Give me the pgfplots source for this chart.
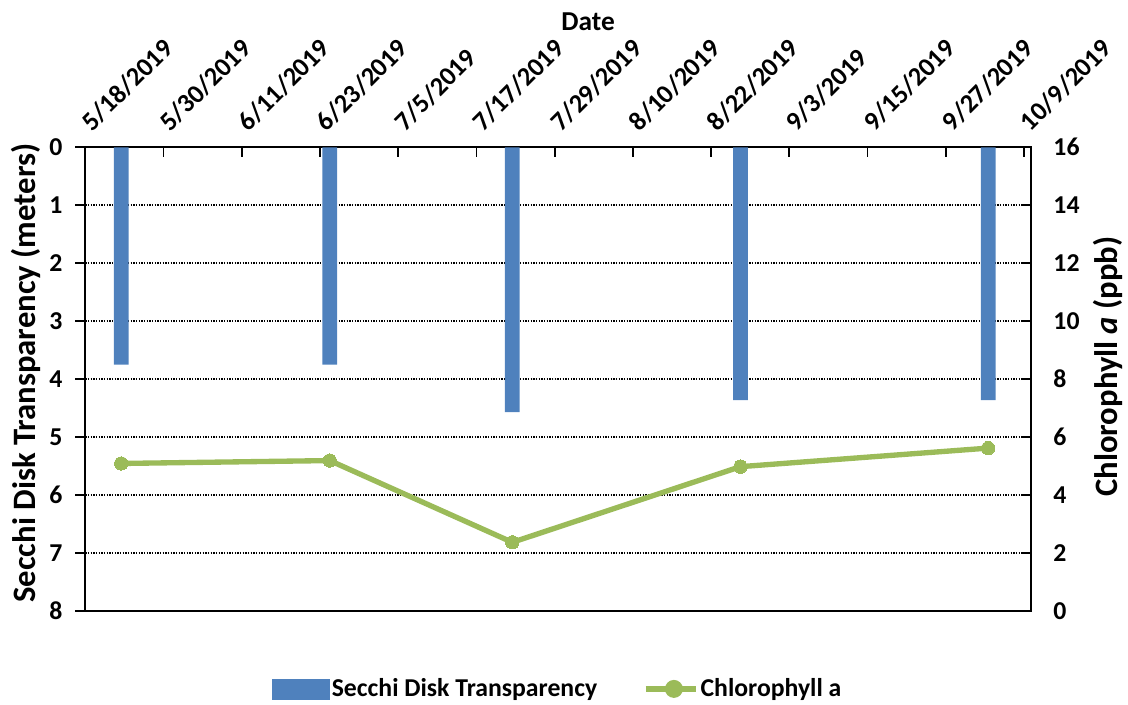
\documentclass[border=0pt]{standalone}
\usepackage{fontspec}
\setmainfont{Carlito}
\usepackage{pgfplots}
\pgfplotsset{compat=1.18}
\definecolor{secchi}{HTML}{4F81BD}
\definecolor{chl}{HTML}{9BBB59}
\newcommand{\fs}{\fontsize{19.3}{21}\selectfont\bfseries}
\newcommand{\fx}{\fontsize{19.8}{21}\selectfont\bfseries}
\newcommand{\fl}{\fontsize{24.5}{26}\selectfont\bfseries}
\newcommand{\ft}{\fontsize{20.5}{22}\selectfont\bfseries}
\begin{document}
\begin{tikzpicture}
\useasboundingbox (-64pt,-70.5pt) rectangle (782pt,458.25pt);
\pgfplotsset{
  base/.style={
    scale only axis, width=708.9pt, height=347.8pt,
    at={(0,0)}, anchor=south west,
    xmin=0, xmax=145,
    axis line style={line width=1.5pt},
    tick style={line width=1.3pt, black},
    major tick length=7.5pt,
    tick align=inside,
    /pgf/number format/assume math mode=true,
    tick label style={font=\fs},
  }
}
\begin{axis}[base,
  ymin=0, ymax=8, y dir=reverse,
  ytick={0,...,8},
  xtick={0,12,...,144},
  xticklabels={5/18/2019,5/30/2019,6/11/2019,6/23/2019,7/5/2019,7/17/2019,7/29/2019,8/10/2019,8/22/2019,9/3/2019,9/15/2019,9/27/2019,10/9/2019},
  xtick pos=right, ytick pos=left,
  xticklabel pos=right, yticklabel pos=left,
  xticklabel style={xshift=5pt, rotate=45, anchor=base west, inner sep=0pt, font=\fx},
  xticklabel shift=11pt,
  yticklabel style={anchor=east, inner sep=0pt},
  yticklabel shift=17pt,
  y tick style={xshift=-7.5pt},
  ymajorgrids,
  major grid style={black, line width=1.3pt, dash pattern=on 1pt off 1pt},
  xlabel={Date},
  xlabel style={at={(axis description cs:0.532,1.27)}, anchor=center, inner sep=0pt, font=\ft},
  ylabel={Secchi Disk Transparency (meters)},
  ylabel style={at={(axis description cs:-0.0627,0.513)}, anchor=center, inner sep=0pt, font=\fl},
]
\addplot[ybar, bar width=11pt, fill=secchi, draw=none] coordinates {
  (5.5,3.75) (37.5,3.75) (65.5,4.57) (100.5,4.36) (138.5,4.36)
};
\end{axis}
\begin{axis}[base,
  ymin=0, ymax=16,
  ytick={0,2,...,16},
  axis y line*=right, hide x axis,
  yticklabel style={anchor=west, inner sep=0pt},
  yticklabel shift=17pt,
  ylabel={Chlorophyll \textit{a} (ppb)},
  ylabel style={at={(axis description cs:1.082,0.527)}, anchor=center, inner sep=0pt, font=\fl},
  legend style={draw=none, fill=none, legend columns=2, inner sep=0pt,
    at={(axis description cs:0.1975,-0.168)}, anchor=west,
    nodes={inner sep=1.5pt, font=\fs},
    /tikz/every even column/.append style={column sep=33pt}},
]
\addlegendimage{legend image code/.code={\fill[secchi] (0pt,-7.5pt) rectangle (42.75pt,7.5pt);}}
\addlegendentry{Secchi Disk Transparency}
\addplot[chl, line width=4pt, mark=*, mark size=5pt,
  mark options={fill=chl, draw=chl, line width=0pt},
  legend image code/.code={\draw[chl, line width=4pt] (0pt,0pt) -- (36.75pt,0pt); \fill[chl] (21pt,0pt) circle (4.7pt); \path (0pt,0pt) -- (37.5pt,0pt);}]
  coordinates {(5.5,5.09) (37.5,5.19) (65.5,2.37) (100.5,4.98) (138.5,5.62)};
\addlegendentry{Chlorophyll a}
\end{axis}
\end{tikzpicture}
\end{document}
